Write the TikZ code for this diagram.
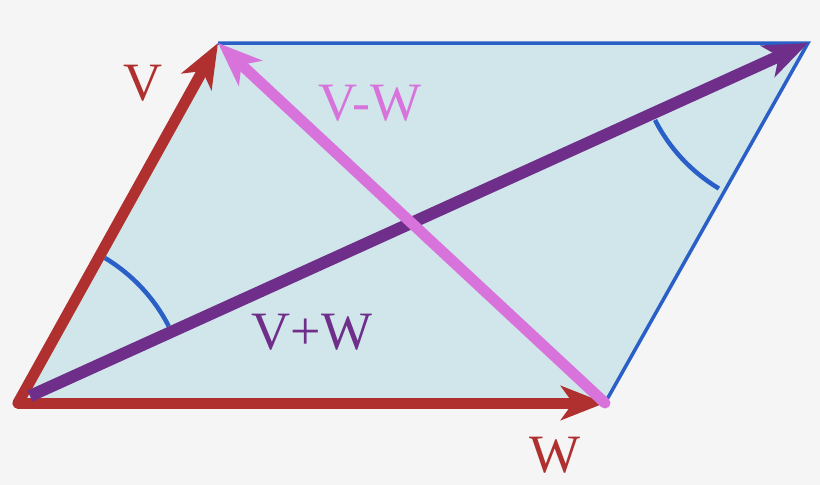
\documentclass[tikz,border=0pt]{standalone}
\usepackage{fontspec}
\setmainfont{Liberation Serif}
\usetikzlibrary{arrows.meta}
\definecolor{bgcol}{HTML}{F5F5F5}
\definecolor{fillcol}{HTML}{D0E6EA}
\definecolor{edgecol}{HTML}{2A5FC8}
\definecolor{vecred}{HTML}{B03030}
\definecolor{sumcol}{HTML}{6E2E8A}
\definecolor{diffcol}{HTML}{D873DC}
\begin{document}
\begin{tikzpicture}[
        x=1pt, y=-1pt,
        vector/.style={line width=11pt, line cap=round, -{Stealth[length=44pt,width=34pt,inset=12pt]}},
        angle arc/.style={edgecol, line width=4.5pt},
        every node/.style={font=\fontsize{54}{54}\selectfont}
    ]
 \fill[bgcol] (0,0) rectangle (820,485);
 \coordinate (o) at (18,403);
 \coordinate (w) at (605,403);
 \coordinate (v) at (218,43);
 \coordinate (s) at (808,43);
 \fill[fillcol] (o) -- (w) -- (s) -- (v) -- cycle;
 \draw[edgecol, line width=3.5pt] (v) -- (s) -- (w);
 % angles
 \draw[angle arc] (105,258) arc[start angle=-59.0, end angle=-27.1, radius=170];
 \draw[angle arc] (655,120) arc[start angle=153.0, end angle=121.0, radius=170];
 % vectors
 \draw[vector, vecred] (o) -- (v);
 \draw[vector, vecred] (o) -- (w);
 \draw[vector, sumcol, line width=12pt, line cap=butt] (30,396) -- (s);
 \draw[vector, diffcol] (w) -- (v);
 % labels
 \node[text=vecred] (lv) at (143,83) {V};
 \node[text=vecred] (lw) at (555,455) {W};
 \node[text=diffcol] (ld) at (370,103) {V-W};
 \node[text=sumcol] (ls) at (312,332) {V+W};
\end{tikzpicture}
\end{document}
